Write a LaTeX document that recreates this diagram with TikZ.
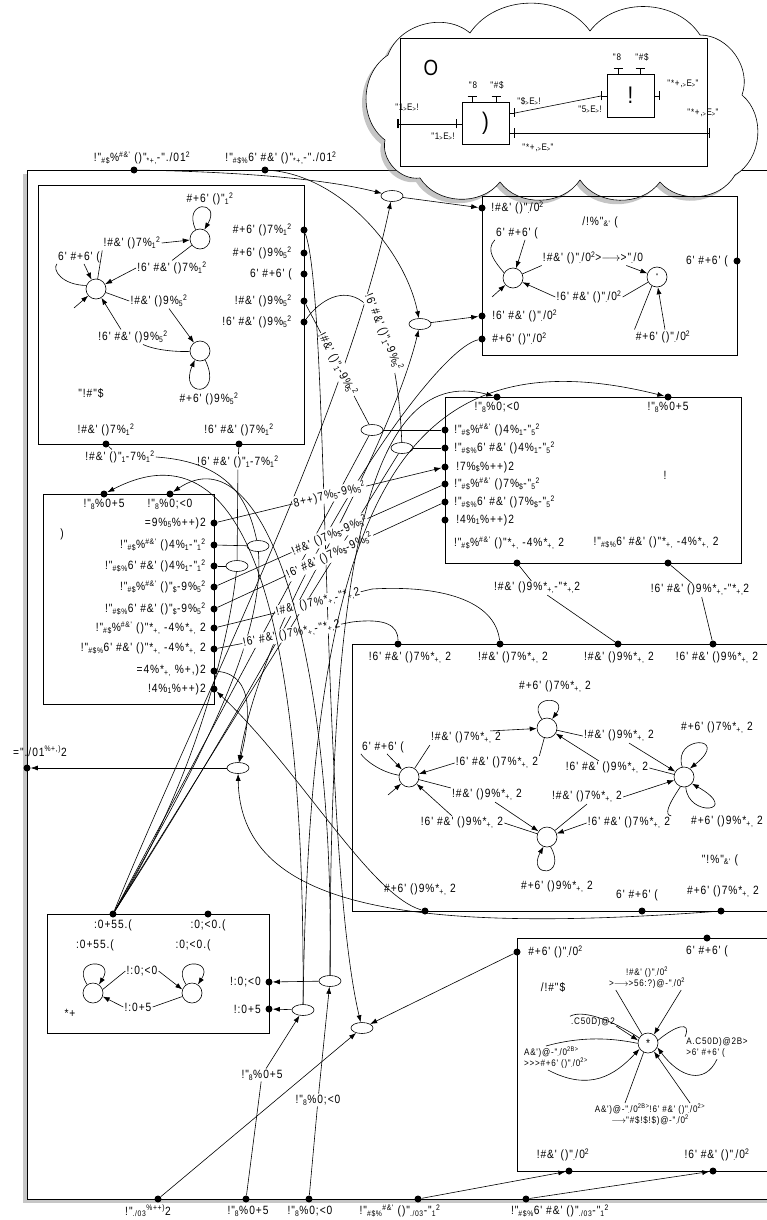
\documentclass[tikz,border=0pt]{standalone}
\usepackage{fontspec}
\usepackage{tikz}
\usetikzlibrary{arrows.meta,shapes.geometric,shadows}
\newfontfamily\lbl{Liberation Sans}[FakeStretch=0.85,LetterSpace=8]
\newcommand\ssb[1]{\textsubscript{#1}}
\newcommand\ssp[1]{\textsuperscript{#1}}

\begin{document}
\begin{tikzpicture}[x=1pt,y=-1pt,line width=0.6pt,>={Latex[length=7pt,width=5pt]},
  font=\lbl\fontsize{12}{13}\selectfont,
  lab/.style={inner sep=1pt},
  elab/.style={inner sep=1pt,fill=white},
  sm/.style={inner sep=1pt,font=\lbl\fontsize{9.5}{11}\selectfont},
  port/.style={circle,fill,inner sep=0pt,minimum size=7pt},
  st/.style={circle,draw,inner sep=0pt,minimum size=20pt},
  merge/.style={ellipse,draw,fill=white,inner sep=0pt,minimum width=22pt,minimum height=11pt},
  puff/.style={bend left=55},
  frameshadow/.style={drop shadow={shadow xshift=-4pt,shadow yshift=-4pt,opacity=0.45}}]

\useasboundingbox (0,0) rectangle (766,1220);

\draw[fill=white,frameshadow] (27,170) rectangle (790,1199);

% cloud with the block diagram
\draw[fill=white,frameshadow] (388,55) to[puff] (470,33) to[puff] (590,31) to[puff] (700,35)
  to[puff] (742,95) to[puff] (735,175) to[puff] (660,182) to[puff] (580,180)
  to[puff] (500,182) to[puff] (420,178) to[puff] (385,140) to[puff] cycle;
\draw (400,38) rectangle (707,166);
\node[font=\lbl\fontsize{22}{24}\selectfont] (cO) at (431,68) {O};
\node[draw,minimum width=47pt,minimum height=42pt,font=\lbl\fontsize{24}{26}\selectfont] (bxA) at (485.5,123) {)};
\node[draw,minimum width=47pt,minimum height=43pt,font=\lbl\fontsize{24}{26}\selectfont] (bxB) at (630.5,95.5) {!};
\coordinate (inL) at (397,124);
\coordinate (aIn) at (456,124);
\coordinate (aOut1) at (515,113);
\coordinate (aOut2) at (515,133);
\coordinate (bIn) at (601,96);
\coordinate (bOut) at (660,96);
\coordinate (outR) at (710,133);
\draw[{Bar[width=9pt]}-] (aIn) -- (aIn -| bxA.west);
\draw[{Bar[width=9pt]}-] (aOut1) -- (aOut1 -| bxA.east);
\draw[{Bar[width=9pt]}-] (aOut2) -- (aOut2 -| bxA.east);
\draw[{Bar[width=9pt]}-] (bIn) -- (bIn -| bxB.west);
\draw[{Bar[width=9pt]}-] (bOut) -- (bOut -| bxB.east);
\draw[{Bar[width=9pt]}-] (472,96) -- (472,102);
\draw[{Bar[width=9pt]}-] (496,96) -- (496,102);
\draw[{Bar[width=9pt]}-] (618,68) -- (618,74);
\draw[{Bar[width=9pt]}-] (640,68) -- (640,74);
\draw[{Bar[width=9pt]Bar[width=9pt]}-] (inL) -- (aIn);
\draw (aOut1) -- (bIn);
\draw[-{Bar[width=9pt]Bar[width=9pt]}] (aOut2) -- (outR);
\node[sm] (cl1) at (407,108) {"1\ssb{>}E\ssb{>}!};
\node[sm] (cl2) at (443,137) {"1\ssb{>}E\ssb{>}!};
\node[sm] (cl3) at (473,85) {"8};
\node[sm] (cl4) at (497,85) {"\#\$};
\node[sm] (cl5) at (529,101) {"\$\ssb{>}E\ssb{>}!};
\node[sm] (cl6) at (590,110) {"5\ssb{>}E\ssb{>}!};
\node[sm] (cl7) at (617,57) {"8};
\node[sm] (cl8) at (642,57) {"\#\$};
\node[sm] (cl9) at (683,84) {"*+,\ssb{>}E\ssb{>}"};
\node[sm] (cl10) at (703,113) {"*+,\ssb{>}E\ssb{>}"};
\node[sm] (cl11) at (538,148) {"*+,\ssb{>}E\ssb{>}"};

% outer ports
\node[port] (p1) at (134,170) {};
\node[port] (p2) at (265,170) {};
\node[lab] (p1l) at (142,158) {!"\ssb{\#\$}\%\ssp{\#\&'} ()"\ssb{*+,}-"./01\ssp{2}};
\node[lab] (p2l) at (281,158) {!"\ssb{\#\$\%}6' \#\&' ()"\ssb{*+,}-"./01\ssp{2}};
\node[port] (fl) at (27,768) {};
\node[lab] (fll) at (40,751) {="./01\ssp{\%+,)}2};
\node[port] (fb1) at (158,1199) {};
\node[port] (fb2) at (246,1199) {};
\node[port] (fb3) at (309,1199) {};
\node[port] (fb4) at (418,1199) {};
\node[port] (fb5) at (526,1199) {};
\node[lab] (fb1l) at (148,1211) {!"\ssb{./03}\ssp{\%++)}2};
\node[lab] (fb2l) at (248,1211) {!"\ssb{8}\%0+5};
\node[lab] (fb3l) at (310,1211) {!"\ssb{8}\%0;<0};
\node[lab] (fb4l) at (400,1211) {!"\ssb{\#\$\%}\ssp{\#\&'} ()"\ssb{./03}-"\ssb{1}\ssp{2}};
\node[lab] (fb5l) at (560,1211) {!"\ssb{\#\$\%}6' \#\&' ()"\ssb{./03}-"\ssb{1}\ssp{2}};

% top left box
\draw (38,185) rectangle (304,444);
\node[st] (A) at (200,239) {};
\node[st] (B) at (96,289) {};
\node[st] (C) at (200,351) {};
\node[lab] (a0) at (210,199) {\#+6' ()"\ssb{1}\ssp{2}};
\node[lab] (a1) at (132,243) {!\#\&' ()7\%\ssb{1}\ssp{2}};
\node[lab] (a2) at (79,257) {6' \#+6' (};
\node[lab] (a3) at (172,268) {!6' \#\&' ()7\%\ssb{1}\ssp{2}};
\node[lab] (a4) at (159,301) {!\#\&' ()9\%\ssb{5}\ssp{2}};
\node[lab] (a5) at (133,337) {!6' \#\&' ()9\%\ssb{5}\ssp{2}};
\node[lab] (a6) at (209,399) {\#+6' ()9\%\ssb{5}\ssp{2}};
\node[lab] (tlT) at (91,393) {"!\#"\$};
\coordinate (Bi) at (74,308);
\draw[->] (A.115) .. controls (182,200) and (222,200) .. (A.65);
\draw (B) -- (a1.south west);
\draw[->] (a1.east) -- (A);
\draw (A) -- (a3.north);
\draw[->] (a3.west) -- (B);
\draw (B.160) .. controls (62,285) and (52,270) .. (a2.south west);
\draw[->] ([xshift=5pt]a2.south) -- (B);
\draw[->] (Bi) -- (B);
\draw (B) -- (a4.west);
\draw[->] ([xshift=10pt]a4.south) -- (C);
\draw (C) .. controls (175,352) and (155,350) .. ([xshift=10pt]a5.south);
\draw[->] ([xshift=-12pt]a5.north) -- (B);
\draw[->] (C.-60) .. controls (224,398) and (178,398) .. (C.-120);
\node[port] (tr1) at (304,230) {};
\node[port] (tr2) at (304,253) {};
\node[port] (tr3) at (304,274) {};
\node[port] (tr4) at (304,301) {};
\node[port] (tr5) at (304,322) {};
\node[lab,anchor=east] (tr1l) at (293,230) {\#+6' ()7\%\ssb{1}\ssp{2}};
\node[lab,anchor=east] (tr2l) at (293,253) {\#+6' ()9\%\ssb{5}\ssp{2}};
\node[lab,anchor=east] (tr3l) at (293,274) {6' \#+6' (};
\node[lab,anchor=east] (tr4l) at (293,301) {!\#\&' ()9\%\ssb{5}\ssp{2}};
\node[lab,anchor=east] (tr5l) at (293,322) {!6' \#\&' ()9\%\ssb{5}\ssp{2}};
\node[port] (tb1) at (106,444) {};
\node[port] (tb2) at (239,444) {};
\node[lab] (tb1l) at (106,430) {!\#\&' ()7\%\ssb{1}\ssp{2}};
\node[lab] (tb2l) at (239,430) {!6' \#\&' ()7\%\ssb{1}\ssp{2}};

% top right box
\draw (482,196) rectangle (737,355);
\node[port] (r1a) at (482,208) {};
\node[port] (r1b) at (482,316) {};
\node[port] (r1c) at (482,339) {};
\node[port] (r1d) at (737,261) {};
\node[lab,anchor=west] (r1al) at (490,208) {!\#\&' ()"\ssb{.}/0\ssp{2}};
\node[lab,anchor=west] (r1bl) at (491,316) {!6' \#\&' ()"\ssb{.}/0\ssp{2}};
\node[lab,anchor=west] (r1cl) at (491,339) {\#+6' ()"\ssb{.}/0\ssp{2}};
\node[lab,anchor=east] (r1dl) at (729,261) {6' \#+6' (};
\node[lab] (r1T) at (600,222) {/!\%"\ssb{\&'} (};
\node[st] (D) at (513,278) {};
\node[st,font=\lbl\fontsize{8}{8}\selectfont] (E) at (657,277) {"};
\node[lab] (d1) at (517,233) {6' \#+6' (};
\node[lab] (d2) at (593,258) {!\#\&' ()"\ssb{.}/0\ssp{2}>\ensuremath{\longrightarrow}>"\ssb{.}/0};
\node[lab] (d3) at (589,297) {!6' \#\&' ()"\ssb{.}/0\ssp{2}};
\node[lab] (d4) at (663,337) {\#+6' ()"\ssb{.}/0\ssp{2}};
\coordinate (Di) at (492,297);
\draw (D.150) .. controls (495,262) and (485,250) .. (d1.south west);
\draw[->] ([xshift=8pt]d1.south) -- (D);
\draw[->] (Di) -- (D);
\draw (D) -- (d2.south west);
\draw[->] ([xshift=-18pt]d2.south east) -- (E);
\draw (E) -- (d3.east);
\draw[->] (d3.west) -- (D);
\draw (E.-120) -- (d4.north west);
\draw[->] ([xshift=2pt]d4.north) -- (E.-85);

% left middle box
\draw (43,494) rectangle (214,704);
\node[port] (mt1) at (104,494) {};
\node[port] (mt2) at (170,494) {};
\node[lab] (mt1l) at (104,504) {!"\ssb{8}\%0+5};
\node[lab] (mt2l) at (170,504) {!"\ssb{8}\%0;<0};
\node[lab] (m1T) at (62,534) {)};
\node[port] (mp1) at (214,523) {};
\node[port] (mp2) at (214,545) {};
\node[port] (mp3) at (214,566) {};
\node[port] (mp4) at (214,587) {};
\node[port] (mp5) at (214,609) {};
\node[port] (mp6) at (214,628) {};
\node[port] (mp7) at (214,649) {};
\node[port] (mp8) at (214,671) {};
\node[port] (mp9) at (214,689) {};
\node[lab,anchor=east] (mp1l) at (207,523) {=9\%\ssb{5}\%++)2};
\node[lab,anchor=east] (mp2l) at (207,545) {!"\ssb{\#\$}\%\ssp{\#\&'} ()4\%\ssb{1}-"\ssb{1}\ssp{2}};
\node[lab,anchor=east] (mp3l) at (207,566) {!"\ssb{\#\$\%}6' \#\&' ()4\%\ssb{1}-"\ssb{1}\ssp{2}};
\node[lab,anchor=east] (mp4l) at (207,587) {!"\ssb{\#\$}\%\ssp{\#\&'} ()"\ssb{\$}-9\%\ssb{5}\ssp{2}};
\node[lab,anchor=east] (mp5l) at (207,609) {!"\ssb{\#\$\%}6' \#\&' ()"\ssb{\$}-9\%\ssb{5}\ssp{2}};
\node[lab,anchor=east] (mp6l) at (207,628) {!"\ssb{\#\$}\%\ssp{\#\&'} ()"*\ssb{+,} -4\%*\ssb{+,} 2};
\node[lab,anchor=east] (mp7l) at (207,649) {!"\ssb{\#\$\%}6' \#\&' ()"*\ssb{+,} -4\%*\ssb{+,} 2};
\node[lab,anchor=east] (mp8l) at (207,671) {=4\%*\ssb{+,} \%+,)2};
\node[lab,anchor=east] (mp9l) at (207,689) {!4\%\ssb{1}\%++)2};

% right middle box
\draw (445,397) rectangle (741,563);
\node[port] (rt1) at (497,397) {};
\node[port] (rt2) at (668,397) {};
\node[lab] (rt1l) at (497,407) {!"\ssb{8}\%0;<0};
\node[lab] (rt2l) at (668,407) {!"\ssb{8}\%0+5};
\node[port] (rl1) at (445,430) {};
\node[port] (rl2) at (445,448) {};
\node[port] (rl3) at (445,467) {};
\node[port] (rl4) at (445,484) {};
\node[port] (rl5) at (445,502) {};
\node[port] (rl6) at (445,520) {};
\node[lab,anchor=west] (rl1l) at (453,430) {!"\ssb{\#\$}\%\ssp{\#\&'} ()4\%\ssb{1}-"\ssb{5}\ssp{2}};
\node[lab,anchor=west] (rl2l) at (453,448) {!"\ssb{\#\$\%}6' \#\&' ()4\%\ssb{1}-"\ssb{5}\ssp{2}};
\node[lab,anchor=west] (rl3l) at (455,467) {!7\%\ssb{\$}\%++)2};
\node[lab,anchor=west] (rl4l) at (453,484) {!"\ssb{\#\$}\%\ssp{\#\&'} ()7\%\ssb{\$}-"\ssb{5}\ssp{2}};
\node[lab,anchor=west] (rl5l) at (453,502) {!"\ssb{\#\$\%}6' \#\&' ()7\%\ssb{\$}-"\ssb{5}\ssp{2}};
\node[lab,anchor=west] (rl6l) at (455,520) {!4\%\ssb{1}\%++)2};
\node[lab] (r2T) at (665,475) {!};
\node[lab] (rb1l) at (509,543) {!"\ssb{\#\$}\%\ssp{\#\&'} ()"*\ssb{+,} -4\%*\ssb{+,} 2};
\node[lab] (rb2l) at (656,543) {!"\ssb{\#\$\%}6' \#\&' ()"*\ssb{+,} -4\%*\ssb{+,} 2};
\node[port] (rb1) at (517,563) {};
\node[port] (rb2) at (668,563) {};

% lower right box
\draw (352,644) rectangle (790,911);
\node[port] (r3t1) at (398,644) {};
\node[port] (r3t2) at (500,644) {};
\node[port] (r3t3) at (618,644) {};
\node[port] (r3t4) at (713,644) {};
\node[lab] (r3t1l) at (410,658) {!6' \#\&' ()7\%*\ssb{+,} 2};
\node[lab] (r3t2l) at (513,658) {!\#\&' ()7\%*\ssb{+,} 2};
\node[lab] (r3t3l) at (619,658) {!\#\&' ()9\%*\ssb{+,} 2};
\node[lab] (r3t4l) at (717,658) {!6' \#\&' ()9\%*\ssb{+,} 2};
\node[port] (r3b1) at (425,911) {};
\node[port] (r3b2) at (642,911) {};
\node[port] (r3b3) at (721,911) {};
\node[lab] (r3b1l) at (420,890) {\#+6' ()9\%*\ssb{+,} 2};
\node[lab] (r3b2l) at (637,895) {6' \#+6' (};
\node[lab] (r3b3l) at (723,892) {\#+6' ()7\%*\ssb{+,} 2};
\node[lab] (r3T) at (720,860) {"!\%"\ssb{\&'} (};
\node[st] (F) at (409,777) {};
\node[st] (G) at (547,728) {};
\node[st] (H) at (547,837) {};
\node[st] (K) at (684,777) {};
\node[lab] (g0) at (555,687) {\#+6' ()7\%*\ssb{+,} 2};
\node[lab] (f1) at (466,738) {!\#\&' ()7\%*\ssb{+,} 2};
\node[lab] (f0) at (383,747) {6' \#+6' (};
\node[lab] (f2) at (497,763) {!6' \#\&' ()7\%*\ssb{+,} 2};
\node[lab] (g1) at (619,736) {!\#\&' ()9\%*\ssb{+,} 2};
\node[lab] (k0) at (717,728) {\#+6' ()7\%*\ssb{+,} 2};
\node[lab] (g2) at (607,768) {!6' \#\&' ()9\%*\ssb{+,} 2};
\node[lab] (f3) at (487,795) {!\#\&' ()9\%*\ssb{+,} 2};
\node[lab] (h1) at (587,797) {!\#\&' ()7\%*\ssb{+,} 2};
\node[lab] (f4) at (462,823) {!6' \#\&' ()9\%*\ssb{+,} 2};
\node[lab] (h2) at (629,823) {!6' \#\&' ()7\%*\ssb{+,} 2};
\node[lab] (k1) at (727,822) {\#+6' ()9\%*\ssb{+,} 2};
\node[lab] (h0) at (557,887) {\#+6' ()9\%*\ssb{+,} 2};
\coordinate (Fi) at (388,795);
\draw[->] (G.120) .. controls (525,695) and (570,695) .. (G.60);
\draw (F) -- (f1.south west);
\draw[->] ([xshift=-12pt]f1.north east) -- (G);
\draw (G) -- (f2.north east);
\draw[->] (f2.west) -- (F);
\draw (F.170) .. controls (380,772) and (365,760) .. (f0.south west);
\draw[->] ([xshift=4pt]f0.south) -- (F);
\draw[->] (Fi) -- (F);
\draw (G) -- (g1.west);
\draw[->] ([xshift=10pt]g1.south) -- (K);
\draw (K) -- (g2.east);
\draw[->] ([xshift=-8pt]g2.north) -- (G);
\draw[->] (K.100) .. controls (672,735) and (732,735) .. (K.55);
\draw[->] (K.-80) .. controls (688,818) and (742,812) .. (K.-40);
\draw (F) -- (f3.north west);
\draw[->] ([xshift=8pt]f3.south) -- (H);
\draw (H) -- (f4.east);
\draw[->] ([xshift=-10pt]f4.north) -- (F);
\draw (H) -- (h1.south);
\draw[->] (h1.east) -- (K);
\draw (K.-110) .. controls (668,805) and (664,815) .. (h2.north east);
\draw[->] (h2.west) -- (H);
\draw[->] (H.-70) .. controls (568,878) and (526,878) .. (H.-110);

% lower left box
\draw (47,914) rectangle (269,1033);
\node[port] (q1) at (113,914) {};
\node[port] (q2) at (208,914) {};
\node[lab] (q1l) at (113,925) {:0+55.(};
\node[lab] (q2l) at (208,925) {:0;<0.(};
\node[port] (m3r1) at (269,982) {};
\node[port] (m3r2) at (269,1009) {};
\node[lab,anchor=east] (m3r1l) at (262,982) {!:0;<0};
\node[lab,anchor=east] (m3r2l) at (262,1009) {!:0+5};
\node[st] (N1) at (93,993) {};
\node[st] (N2) at (192,993) {};
\node[lab] (n0) at (95,945) {:0+55.(};
\node[lab] (n0b) at (193,945) {:0;<0.(};
\node[lab] (n1) at (142,971) {!:0;<0};
\node[lab] (n2) at (138,1007) {!:0+5};
\node[lab] (m3T) at (70,1013) {*+};
\draw[->] (N1.125) .. controls (70,958) and (116,958) .. (N1.55);
\draw[->] (N2.125) .. controls (169,958) and (215,958) .. (N2.55);
\draw (N1.20) -- (n1.west);
\draw[->] (n1.east) -- (N2.160);
\draw (N2.200) -- (n2.east);
\draw[->] (n2.west) -- (N1.-20);

% bottom right box
\draw (517,938) rectangle (790,1171);
\node[port] (r4l) at (517,952) {};
\node[port] (r4t) at (707,938) {};
\node[port] (r4b1) at (569,1171) {};
\node[port] (r4b2) at (713,1171) {};
\node[lab,anchor=west] (r4ll) at (527,952) {\#+6' ()"\ssb{.}/0\ssp{2}};
\node[lab] (r4tl) at (707,951) {6' \#+6' (};
\node[lab] (r4b1l) at (563,1155) {!\#\&' ()"\ssb{.}/0\ssp{2}};
\node[lab] (r4b2l) at (717,1155) {!6' \#\&' ()"\ssb{.}/0\ssp{2}};
\node[lab] (r4T) at (553,987) {/!\#"\$};
\node[st] (S) at (648,1043) {*};
\node[sm,align=center] (s1) at (647,978) {!\#\&' ()"\ssb{.}/0\ssp{2}\\>\ensuremath{\longrightarrow}>56:?)@-"\ssb{.}/0\ssp{2}};
\node[sm] (s2) at (593,1022) {.C50D)@2};
\node[sm,align=left] (s3) at (556,1058) {A\&')@-"\ssb{.}/0\ssp{2B>}\\>>>\#+6' ()"\ssb{.}/0\ssp{2>}};
\node[sm,align=left] (s4) at (717,1048) {A.C50D)@2B>\\>6' \#+6' (};
\node[sm,align=center] (s5) at (650,1115) {A\&')@-"\ssb{.}/0\ssp{2B>}!6' \#\&' ()"\ssb{.}/0\ssp{2>}\\\ensuremath{\longrightarrow}"\#\$!\$!\$)@-"\ssb{.}/0\ssp{2}};
\draw (S.125) -- ([xshift=8pt]s1.south west);
\draw[->] ([xshift=-5pt]s1.south east) -- (S.55);
\draw (S.150) .. controls (620,1025) and (585,1008) .. (s2.north west);
\draw[->] ([yshift=-4pt]s2.east) -- (S.165);
\draw (S.182) .. controls (612,1038) and (582,1036) .. ([xshift=-10pt]s3.north);
\draw[->] ([xshift=-8pt]s3.south) .. controls (590,1092) and (615,1075) .. (S.-145);
\draw (S.15) .. controls (675,1026) and (692,1020) .. (s4.north west);
\draw[->] (s4.south) .. controls (705,1085) and (680,1078) .. (S.-25);
\draw (S.-115) -- ([xshift=-25pt]s5.north);
\draw[->] ([xshift=40pt]s5.north) -- (S.-55);

% merge points
\node[merge] (e1) at (392,196) {};
\node[merge] (e2) at (420,324) {};
\node[merge] (e3) at (258,546) {};
\node[merge] (e4) at (237,566) {};
\node[merge] (e5) at (372,430) {};
\node[merge] (e6) at (402,448) {};
\node[merge] (e7) at (238,768) {};
\node[merge] (e8) at (330,981) {};
\node[merge] (e9) at (303,1010) {};
\node[merge] (e10) at (362,1028) {};

% connections
\draw[->] (p1) .. controls (250,172) and (330,180) .. (e1);
\draw[->] (p2) .. controls (340,175) and (405,250) .. (e2);
\draw[->] (e1) -- (r1a);
\draw[->] (e2) -- (r1b);
\draw[->] (q1) .. controls (200,700) and (345,420) .. (e1);
\draw[->] (q1) .. controls (250,700) and (390,450) .. (e2);
\draw (q1) .. controls (200,760) and (265,640) .. (e3);
\draw (q1) .. controls (190,790) and (228,650) .. (e4);
\draw (q1) -- (e5);
\draw (q1) -- (e6);
\node[elab] (lt1) at (120,457) {!\#\&' ()"\ssb{1}-7\%\ssb{1}\ssp{2}};
\node[elab] (lt2) at (238,462) {!6' \#\&' ()"\ssb{1}-7\%\ssb{1}\ssp{2}};
\draw (tb1) -- (lt1);
\draw (lt1.east) .. controls (230,462) and (248,500) .. (e3);
\draw (tb2) -- (lt2);
\draw (lt2) -- (e4);
\draw (e3) -- (mp2);
\draw (e4) -- (mp3);
\draw (tr4) -- node[elab,sloped] (lrA) {!\#\&' ()"\ssb{1}-9\%\ssb{5}\ssp{2}} (e5);
\draw (tr5) .. controls (335,280) and (395,270) .. node[elab,sloped,pos=0.7] (lrB) {!6' \#\&' ()"\ssb{1}-9\%\ssb{5}\ssp{2}} (e6);
\draw (e5) -- (rl1);
\draw (e6) -- (rl2);
\draw[->] (tr1) .. controls (330,300) and (320,850) .. (e10);
\draw[->] (r1c) .. controls (430,350) and (265,600) .. (e7);
\draw[->] (mp8) .. controls (255,675) and (250,720) .. (e7);
\draw[->] (e7) -- (fl);
\draw[->] (r3b3) .. controls (400,935) and (240,905) .. (e7);
\draw[->] (r3b1) .. controls (370,895) and (300,770) .. (mp9);
\draw[->] (mp1) -- node[elab,sloped] (lr1) {8++)7\%\ssb{5}-9\%\ssb{5}\ssp{2}} (rl3);
\draw (mp4) -- node[elab,sloped] (lr2) {!\#\&' ()7\%\ssb{\$}-9\%\ssb{5}\ssp{2}} (rl4);
\draw (mp5) -- node[elab,sloped] (lr3) {!6' \#\&' ()7\%\ssb{\$}-9\%\ssb{5}\ssp{2}} (rl5);
\coordinate (k4) at (372,589);
\coordinate (k5) at (352,622);
\draw (mp6) -- node[elab,sloped,pos=0.65] (lr4) {!\#\&' ()7\%*\ssb{+,}-"*\ssb{+,}2} (k4) .. controls (440,585) and (495,600) .. (r3t2);
\draw (mp7) -- node[elab,sloped,pos=0.55] (lr5) {!6' \#\&' ()7\%*\ssb{+,}-"*\ssb{+,}2} (k5) .. controls (385,618) and (398,625) .. (r3t1);
\node[elab] (lb1) at (537,588) {!\#\&' ()9\%*\ssb{+,}-"*\ssb{+,}2};
\node[elab] (lb2) at (700,590) {!6' \#\&' ()9\%*\ssb{+,}-"*\ssb{+,}2};
\draw (rb1) -- (lb1);
\draw (lb1) -- (r3t3);
\draw (rb2) -- (lb2);
\draw (lb2) -- (r3t4);
\node[elab] (l8a) at (262,1075) {!"\ssb{8}\%0+5};
\node[elab] (l8b) at (318,1100) {!"\ssb{8}\%0;<0};
\draw[->] (fb1) -- (e10);
\draw (fb2) -- (l8a);
\draw[->] (l8a) -- (e9);
\draw (fb3) -- (l8b);
\draw[->] (l8b) -- (e8);
\draw[->] (e8) -- (m3r1);
\draw[->] (e9) -- (m3r2);
\draw[->] (e9) .. controls (305,680) and (265,410) .. (mt1);
\draw[->] (e8) .. controls (335,650) and (265,430) .. (mt2);
\draw[->] (e8) .. controls (330,600) and (360,360) .. (rt1);
\draw[->] (e9) .. controls (310,500) and (400,330) .. (rt2);
\draw[->] (r4l) -- (e10);
\draw[->] (fb4) -- (r4b1);
\draw[->] (fb5) -- (r4b2);

\end{tikzpicture}
\end{document}
